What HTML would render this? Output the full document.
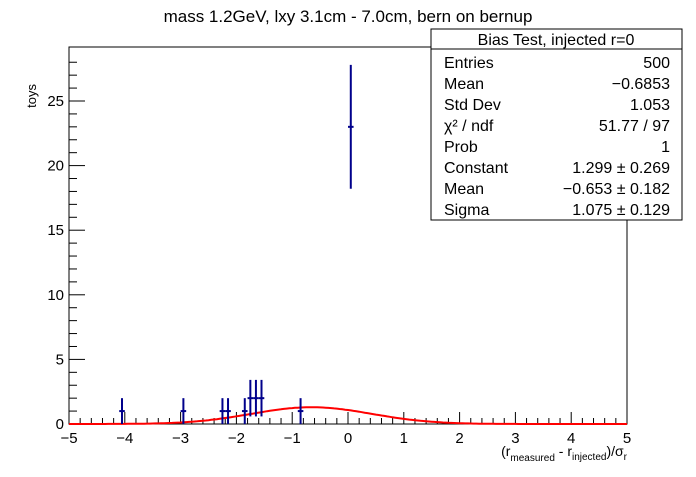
<!DOCTYPE html>
<html><head><meta charset="utf-8"><style>
body{margin:0;background:#fff;font-family:"Liberation Sans",sans-serif;}
svg text{font-family:"Liberation Sans",sans-serif;}
</style></head><body>
<svg width="696" height="472" viewBox="0 0 696 472">
<rect width="696" height="472" fill="#fff"/>
<text x="348" y="22" font-size="17" text-anchor="middle">mass 1.2GeV, lxy 3.1cm - 7.0cm, bern on bernup</text>
<g id="axes"></g>
<g id="marks"></g>
<text transform="translate(36,84) rotate(-90)" font-size="13" text-anchor="end">toys</text>
<text x="627" y="456" font-size="14" text-anchor="end">(r<tspan font-size="10" dy="5">measured</tspan><tspan dy="-5"> - r</tspan><tspan font-size="10" dy="4">injected</tspan><tspan dy="-4">)/σ</tspan><tspan font-size="10" dy="4">r</tspan></text>
<g>
<rect x="431" y="29" width="251" height="191" fill="#fff" stroke="#000" stroke-width="1"/>
<line x1="431" y1="49" x2="682" y2="49" stroke="#000"/>
<text x="556" y="45" font-size="16" text-anchor="middle">Bias Test, injected r=0</text>
<g id="stats" font-size="16"></g>
</g>
</svg>
<script>
const binCenters=[-4.05,-2.95,-2.25,-2.15,-1.85,-1.75,-1.65,-1.55,-0.85,0.05];
const binCounts=[1,1,1,1,1,2,2,2,1,23];
const xTicks=[-5,-4,-3,-2,-1,0,1,2,3,4,5];
const yTicks=[0,5,10,15,20,25];
const fitConstant=1.299, fitMean=-0.653, fitSigma=1.075;
const statLabels=["Entries","Mean","Std Dev","χ² / ndf","Prob","Constant","Mean","Sigma"];
const statValues=["500","−0.6853","1.053","51.77 / 97","1","1.299 ± 0.269","−0.653 ± 0.182","1.075 ± 0.129"];

const NS="http://www.w3.org/2000/svg";
const L=69,R=627,T=47,B=424;
const X=v=>L+(v+5)/10*(R-L);
const Y=v=>B-v*(B-101)/25;
function mk(tag,attrs,parent){const e=document.createElementNS(NS,tag);for(const k in attrs)e.setAttribute(k,attrs[k]);parent.appendChild(e);return e;}
const ax=document.getElementById('axes'),mg=document.getElementById('marks');
const frame=mk('rect',{x:L,y:T,width:R-L,height:B-T,fill:'none',stroke:'#000'},ax);


for(let i=0;i<=50;i++){const v=-5+i*0.2;const major=i%5===0;
 mk('line',{x1:X(v),x2:X(v),y1:B,y2:B-(major?12:6),stroke:'#000'},ax);}
xTicks.forEach(v=>{const t=mk('text',{x:X(v),y:B+19,'font-size':15,'text-anchor':'middle'},ax);t.textContent=(v<0?'−':'')+Math.abs(v);
 
 });
for(let v=0;v<=28;v++){const major=v%5===0;mk('line',{x1:L,x2:L+(major?16:8),y1:Y(v),y2:Y(v),stroke:'#000'},ax);}
yTicks.forEach(v=>{const t=mk('text',{x:L-5,y:Y(v)+5,'font-size':15,'text-anchor':'end'},ax);t.textContent=v;
 
 });
// fit curve
let d='';for(let i=0;i<=200;i++){const v=-5+i*0.05;const y=fitConstant*Math.exp(-0.5*Math.pow((v-fitMean)/fitSigma,2));d+=(i?'L':'M')+X(v).toFixed(1)+','+Y(y).toFixed(1);}
const fit=mk('path',{d:d,fill:'none',stroke:'#f00','stroke-width':2},mg);


binCenters.forEach((c,i)=>{const n=binCounts[i],e=Math.sqrt(n);const g=mk('g',{stroke:'#00008b','stroke-width':2},mg);
 
 
 mk('line',{x1:X(c),x2:X(c),y1:Y(n-e),y2:Y(n+e)},g);
 mk('line',{x1:X(c-0.05),x2:X(c+0.05),y1:Y(n),y2:Y(n)},g);});
const st=document.getElementById('stats');
statLabels.forEach((l,i)=>{const y=68+i*21;
 const a=mk('text',{x:444,y:y},st);a.textContent=l;
 
 
 const b=mk('text',{x:670,y:y,'text-anchor':'end'},st);b.textContent=statValues[i];
 
 });
</script>
</body></html>
